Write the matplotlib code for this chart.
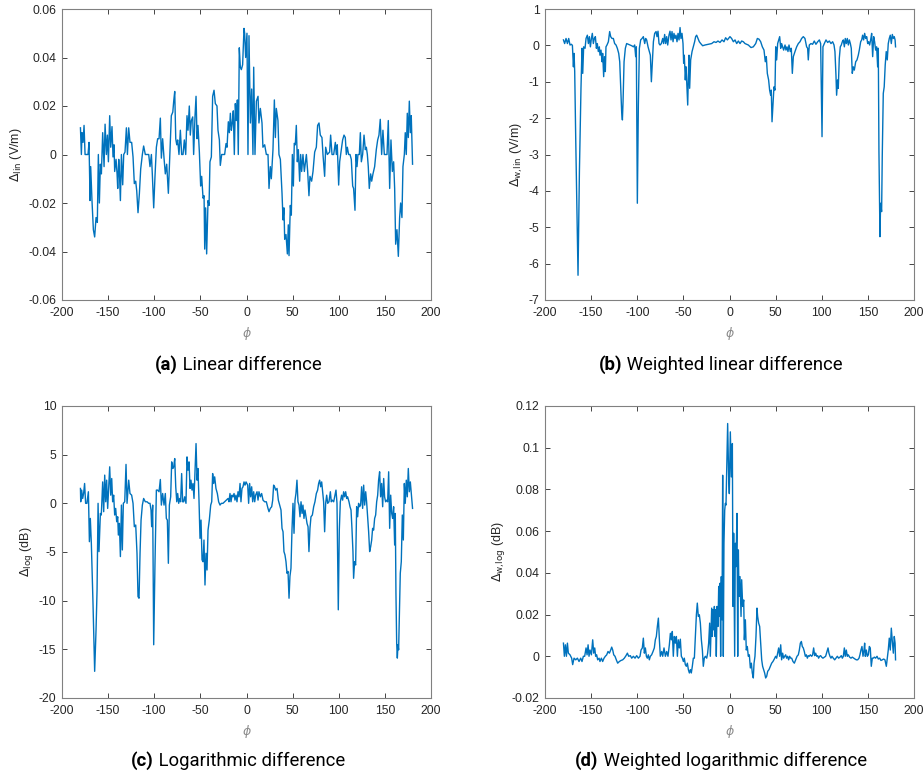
import numpy as np
import matplotlib
matplotlib.use('Agg')
import matplotlib.pyplot as plt
from matplotlib.ticker import FuncFormatter, MultipleLocator
from matplotlib.offsetbox import TextArea, HPacker, AnnotationBbox

plt.rcParams['axes.unicode_minus'] = False
plt.rcParams['font.family'] = ['Liberation Sans', 'DejaVu Sans']

# (a) linear difference, V/m
a_phi = [-180, -179, -178.3, -177.2, -176.1, -175, -173.6, -171.8, -170.7, -169.6,
         -168.9, -167.5, -166, -164.6, -163.1, -161.7, -160.6, -159.5, -158.4, -157.3,
         -155.9, -154.4, -153.3, -151.9, -150.8, -149.7, -148.3, -147.2, -145.8, -144.7,
         -143.6, -142.9, -141.4, -140.3, -139.6, -138.5, -137.8, -136.7, -135.6, -134.2,
         -133.1, -131.7, -130.2, -129.1, -127.7, -126.3, -124.5, -123, -121.6, -120.1,
         -119, -117.6, -116.1, -114.7, -112.9, -111.5, -109.7, -107.8, -106, -104.6,
         -103.1, -102.1, -100.6, -99.2, -97.7, -96.3, -94.8, -93.4, -92.3, -90.9,
         -89.4, -88, -86.5, -84.7, -83.3, -81.5, -79.9, -78.9, -77.8, -76.7,
         -75.6, -74.6, -73.2, -71.7, -70.3, -68.8, -67.4, -65.9, -64.5, -63.4,
         -62, -60.9, -59.8, -58.3, -57.3, -55.8, -54.7, -53.6, -52.6, -51.1,
         -49.7, -48.6, -47.1, -46, -45.3, -44.3, -43.2, -41.7, -40.6, -39.6,
         -38.1, -36.7, -35.2, -33.8, -32, -30.9, -29.4, -28.4, -26.9, -25.1,
         -23.7, -22.2, -21.1, -19.7, -18.6, -17.5, -16.4, -15.4, -14.3, -13.2,
         -12.1, -11, -9.9, -8.9, -7.8, -6.7, -5.6, -4.2, -2.7, -2.0,
         -0.9, 0.5, 1.6, 2.7, 4.2, 5.6, 7.0, 7.8, 9.2, 10.7,
         12.5, 13.5, 15.0, 16.8, 17.8, 19.7, 21.5, 23.3, 24.4, 25.8,
         26.9, 28.7, 30.2, 31.3, 32.3, 34.1, 35.2, 36.7, 38.5, 39.6,
         40.6, 41.4, 42.8, 44.3, 45.3, 46.1, 47.5, 48.6, 49.7, 50.8,
         51.8, 52.9, 54.0, 55.1, 56.2, 57.6, 58.7, 59.8, 61.2, 62.7,
         64.9, 66.3, 67.7, 68.8, 70.6, 72.1, 73.9, 75.7, 77.1, 78.6,
         80.0, 81.8, 82.9, 84.7, 85.8, 87.6, 90.1, 91.2, 92.7, 94.5,
         96.3, 97.4, 98.4, 99.9, 101.0, 102.4, 104.2, 105.7, 107.1, 108.2,
         109.3, 110.7, 112.2, 113.6, 115.1, 116.1, 117.6, 118.7, 119.8, 120.8,
         122.3, 123.4, 124.5, 125.9, 127.4, 128.8, 129.9, 131.0, 132.0, 133.1,
         134.6, 135.7, 137.1, 138.9, 140.7, 142.2, 143.6, 145.0, 146.5, 147.9,
         149.4, 150.8, 152.3, 153.7, 155.2, 156.6, 158.1, 159.5, 160.6, 161.7,
         163.1, 164.6, 166.0, 167.1, 168.5, 169.6, 171.1, 172.1, 173.2, 174.3,
         175.4, 176.5, 177.6, 178.6, 180]
a_val = [0.011, 0.0, 0.009, 0.005, 0.012, 0.0, 0.0, 0.0, 0.005, -0.019,
         -0.005, -0.019, -0.031, -0.034, -0.026, -0.028, 0.0, -0.020, -0.004, -0.008,
         0.009, -0.005, 0.0125, 0.0, 0.008, -0.003, 0.016, 0.003, 0.0115, -0.001,
         0.004, -0.007, -0.002, -0.008, -0.014, -0.002, -0.007, -0.019, 0.0, -0.0125,
         0.0, 0.001, 0.011, 0.0, 0.011, 0.005, 0.005, -0.001, -0.012, -0.011,
         -0.015, -0.024, -0.016, -0.006, 0.0, 0.0035, 0.0, 0.0, 0.0, -0.005,
         0.0, -0.008, -0.022, -0.009, 0.003, 0.0065, 0.0065, 0.015, -0.0015, 0.0065,
         -0.0015, -0.008, -0.004, -0.016, -0.002, 0.016, 0.0175, 0.022, 0.026, 0.0065,
         0.004, 0.006, 0.0, 0.010, 0.0, 0.0, 0.006, 0.0, 0.016, 0.010,
         0.020, 0.008, 0.014, 0.0155, 0.0, 0.016, 0.024, 0.0065, 0.012, 0.001,
         -0.013, -0.009, -0.018, -0.017, -0.039, -0.022, -0.041, -0.019, -0.021, -0.003,
         -0.001, 0.024, 0.0265, 0.021, 0.020, 0.010, 0.006, -0.0045, 0.0, 0.0,
         0.0, 0.0045, 0.003, 0.0135, 0.009, 0.017, 0.010, 0.013, 0.018, 0.0,
         0.021, 0.014, 0.0225, 0.0, 0.044, 0.036, 0.035, 0.037, 0.052, 0.050,
         0.040, 0.050, 0.0, 0.049, 0.013, 0.027, 0.0, 0.036, 0.0, 0.022,
         0.024, 0.013, 0.019, 0.013, 0.003, 0.004, 0.0, 0.0, -0.014, -0.005,
         -0.010, 0.002, 0.0225, 0.007, 0.019, 0.014, 0.0, -0.002, -0.016, -0.027,
         -0.022, -0.035, -0.033, -0.041, -0.029, -0.0417, -0.021, -0.025, 0.0, -0.013,
         0.0046, 0.004, 0.012, -0.003, 0.002, -0.011, 0.0, -0.007, 0.0, -0.007,
         0.0, -0.007, -0.017, -0.009, -0.011, -0.007, 0.001, 0.003, 0.012, 0.013,
         0.008, 0.007, 0.0, -0.009, 0.003, 0.0, 0.001, 0.008, 0.0, 0.0,
         0.005, 0.0, 0.004, -0.0126, -0.003, 0.001, 0.006, 0.008, 0.007, 0.0,
         0.003, 0.0, 0.0, -0.002, -0.013, -0.014, -0.023, 0.0, -0.005, 0.0,
         0.0, 0.009, -0.003, 0.0, 0.008, 0.002, 0.003, 0.0, -0.005, -0.014,
         -0.008, -0.011, -0.008, -0.005, 0.002, 0.006, 0.008, 0.0145, 0.0, 0.010,
         0.0, 0.0, 0.0, 0.014, -0.014, 0.006, -0.007, -0.003, -0.014, -0.037,
         -0.031, -0.042, -0.026, -0.020, -0.026, -0.005, 0.0, 0.009, 0.0, 0.017,
         0.007, 0.022, 0.009, 0.016, -0.004]

# (b) weighted linear difference, V/m
b_phi = [-180, -178.7, -177.2, -175.7, -174.3, -172.9, -171.4, -170.3, -169.2, -168.5,
         -167.8, -166.7, -164.2, -162.7, -161, -159.9, -159.1, -158.1, -156.6, -155.5,
         -154.1, -153, -151.9, -150.8, -149.7, -148.7, -147.6, -146.5, -145.4, -144.3,
         -143.3, -142.2, -141.1, -140.4, -139.3, -138.2, -137.5, -136.4, -135.6, -134.6,
         -133.9, -132.8, -131.3, -129.9, -128.8, -127.4, -125.9, -124.5, -123, -121.6,
         -120.1, -119, -118, -116.9, -116.1, -115.4, -114.3, -112.9, -111.5, -109.6,
         -107.8, -106, -104.2, -102.8, -101.7, -101, -99.9, -98.8, -97.7, -96.3,
         -94.8, -93.4, -91.9, -90.9, -89.8, -88.3, -86.9, -85.8, -84.7, -83.6,
         -82.5, -81.1, -79.6, -78.6, -77.5, -76.4, -75.3, -73.9, -72.4, -71.4,
         -70.3, -69.2, -68.1, -67, -65.6, -64.5, -63.4, -62.3, -61.2, -60.2,
         -59.1, -58, -56.9, -55.8, -54.7, -53.6, -52.6, -51.5, -50.4, -49.7,
         -49, -47.9, -47.1, -46.4, -45.3, -44.6, -43.9, -43.2, -42.1, -40.6,
         -39.2, -37.8, -36.7, -35.6, -34.1, -32.7, -31.2, -29.1, -26.6, -22.9,
         -19.3, -16.8, -14.6, -12.5, -10.3, -8.1, -6, -4.2, -2.3, -0.5,
         0.5, 2.3, 4.2, 6, 7.8, 9.6, 11.4, 13.2, 15, 16.8,
         18.6, 20.4, 23.3, 25.8, 28.4, 30.2, 32, 33.8, 35.6, 37.4,
         38.8, 39.9, 41, 42.4, 43.5, 44.6, 45.3, 46.1, 47.1, 48.2,
         49.3, 50.1, 51.1, 52.2, 53.3, 54.4, 55.5, 56.5, 57.6, 58.7,
         60.2, 61.2, 62.3, 63.4, 64.5, 65.9, 67, 68.1, 69.2, 71,
         72.8, 74.6, 76.4, 78.2, 80, 81.8, 83.6, 84.7, 85.4, 86.5,
         88.3, 90.1, 91.9, 93.7, 95.6, 97.4, 98.8, 100.3, 101.3, 102.8,
         104.6, 106.4, 108.2, 110, 111.8, 113.3, 114.3, 115.4, 116.1, 117.2,
         117.9, 119, 120.1, 121.2, 122.3, 123.4, 124.5, 125.5, 126.6, 127.7,
         128.8, 129.9, 131, 132, 133.1, 134.2, 135.3, 136.8, 138.2, 139.6,
         140.7, 142.2, 143.3, 144.3, 145.4, 146.5, 147.6, 148.7, 149.8, 150.9,
         151.9, 153, 154.1, 155.2, 156.3, 157.3, 158.4, 159.5, 160.6, 161.3,
         162, 163.1, 163.8, 164.9, 165.6, 166.7, 167.7, 168.8, 169.9, 171,
         172.1, 173.2, 174.3, 175.4, 176.5, 177.6, 178.6, 179.5, 180]
b_val = [0.15, 0.05, 0.19, 0.05, 0.19, 0.01, 0.03, 0.0, -0.59, -0.22,
         -0.72, -2.56, -6.32, -3.47, -1.18, -0.08, -0.77, -0.04, -0.08, 0.19,
         0.28, 0.05, 0.24, -0.04, 0.19, 0.33, 0.05, 0.19, 0.24, -0.08,
         0.05, -0.17, -0.04, -0.27, -0.13, -0.45, -0.22, -0.86, -0.31, -0.72,
         -0.04, 0.01, 0.10, 0.38, 0.24, 0.19, 0.19, 0.05, 0.01, -0.08,
         -0.22, -0.45, -1.09, -1.82, -2.05, -1.55, -0.45, -0.08, 0.05, 0.03,
         0.01, -0.01, -0.04, 0.01, -0.31, -0.04, -4.34, -1.64, -0.08, 0.15,
         0.19, 0.24, 0.05, 0.19, 0.15, -0.04, -0.17, -0.27, -1.00, -0.45,
         0.10, 0.33, 0.38, 0.24, 0.39, 0.05, 0.01, 0.05, 0.19, 0.05,
         0.30, 0.05, 0.24, 0.01, 0.28, 0.39, 0.15, 0.38, 0.10, 0.33,
         0.19, 0.28, 0.10, 0.33, 0.15, 0.49, 0.19, 0.33, 0.05, -0.49,
         -0.27, -0.95, -0.59, -1.00, -1.64, -0.86, -0.27, -1.18, -0.40, -0.17,
         -0.04, 0.10, 0.24, 0.28, 0.19, 0.10, 0.05, -0.01, 0.01, 0.03,
         0.05, 0.10, 0.08, 0.12, 0.08, 0.15, 0.10, 0.21, 0.15, 0.21,
         0.24, 0.19, 0.10, 0.15, 0.05, 0.12, 0.05, 0.12, 0.10, 0.05,
         0.03, 0.01, -0.06, -0.04, 0.05, 0.19, 0.17, 0.10, -0.04, -0.13,
         -0.45, -0.31, -0.77, -0.95, -1.23, -1.37, -1.23, -2.10, -1.64, -1.14,
         -1.23, -0.04, -0.40, 0.05, 0.15, 0.24, -0.08, 0.05, -0.04, -0.13,
         0.01, -0.13, -0.04, -0.17, 0.01, -0.17, -0.08, -0.77, -0.31, -0.17,
         -0.04, 0.05, 0.10, 0.19, 0.24, 0.19, -0.04, -0.08, -0.40, 0.01,
         0.05, 0.03, 0.12, 0.03, 0.10, 0.15, 0.05, -2.51, -0.04, 0.05,
         0.15, 0.08, 0.12, 0.05, 0.10, 0.01, -0.17, -0.82, -1.37, -0.95,
         -1.18, -0.36, -0.04, 0.01, 0.10, 0.15, -0.04, 0.19, 0.05, 0.19,
         0.01, 0.15, 0.05, -0.08, -0.77, -0.59, -0.68, -0.45, -0.40, -0.27,
         -0.13, 0.10, 0.15, 0.28, 0.15, 0.33, 0.19, 0.24, 0.05, 0.10,
         0.01, 0.15, 0.33, -0.31, 0.24, 0.10, -0.13, -0.04, -0.59, -0.08,
         -2.92, -5.26, -4.34, -4.57, -3.02, -1.32, -1.14, -0.54, -0.17, -0.40,
         0.05, 0.19, 0.28, 0.05, 0.30, 0.19, 0.24, 0.15, -0.04]

# (c) logarithmic difference, dB
c_phi = [-180, -179.7, -178.7, -177.6, -176.6, -175.5, -174.4, -173, -171.4, -170.3,
         -169.3, -168.2, -166.4, -164.6, -163.1, -162, -160.9, -159.9, -158.4, -157.4,
         -155.9, -154.8, -153.7, -152.6, -151.6, -150.5, -149.4, -148.3, -147.2, -146.1,
         -145.1, -144, -142.9, -141.8, -140.7, -139.6, -138.9, -137.8, -136.7, -135.6,
         -134.6, -133.5, -132, -130.6, -129.5, -127.7, -126.3, -124.5, -123, -121.6,
         -120.1, -118.7, -117.6, -116.5, -115.4, -114.3, -112.9, -111.5, -109.7, -107.8,
         -106, -104.6, -103.5, -102.8, -101.7, -100.6, -99.2, -97.7, -96.3, -94.8,
         -93.4, -92.3, -90.9, -89.4, -88, -86.9, -85.8, -84.7, -83.6, -82.2,
         -81.1, -79.9, -78.9, -77.8, -76.7, -75.6, -74.6, -73.5, -72.4, -71.4,
         -70.3, -69.2, -68.1, -67, -65.6, -64.5, -63.4, -62.3, -61.2, -60.2,
         -59.1, -58, -56.9, -55.8, -54.7, -53.6, -52.6, -51.5, -50.4, -49.3,
         -48.2, -47.1, -46.1, -45, -43.9, -42.8, -41.7, -40.3, -38.8, -37.7,
         -36.7, -35.6, -34.5, -33.1, -31.6, -30.2, -28.7, -27.3, -25.5, -23.7,
         -21.9, -20, -19, -17.9, -16.8, -15.7, -14.6, -13.5, -12.5, -11.4,
         -10.3, -9.2, -8.1, -7, -6, -4.9, -3.8, -2.7, -1.6, -0.5,
         1.3, 2.3, 3.4, 4.5, 5.6, 6.7, 7.8, 8.9, 9.9, 11.4,
         12.5, 13.5, 15, 16.4, 17.9, 19.7, 21.5, 23.3, 24.4, 25.8,
         27.3, 28.4, 29.4, 30.5, 31.6, 33.1, 34.5, 35.9, 37.4, 38.5,
         39.6, 40.6, 41.7, 42.8, 43.9, 45, 46.1, 47.1, 48.2, 49.3,
         50.4, 51.5, 52.6, 53.6, 54.7, 55.8, 56.9, 58, 59.1, 60.2,
         61.2, 62.3, 63.4, 64.5, 65.6, 66.7, 67.7, 68.8, 69.9, 71.4,
         72.8, 74.2, 75.7, 77.1, 78.2, 79.3, 80.4, 81.5, 82.5, 83.6,
         84.7, 85.8, 86.9, 88, 89.4, 90.9, 91.9, 93, 94.5, 95.9,
         97, 98.1, 99.5, 100.6, 101.7, 103.1, 104.2, 105.3, 106.4, 107.5,
         108.6, 109.6, 111.1, 112.2, 113.3, 114.3, 115.4, 116.1, 117.2, 118.3,
         119.4, 120.5, 121.5, 122.6, 123.7, 124.8, 125.9, 127, 128.1, 129.2,
         130.2, 131.3, 132.4, 133.5, 134.6, 135.7, 136.7, 137.8, 138.9, 140,
         141.1, 142.2, 143.2, 144.3, 145.4, 146.5, 147.6, 148.7, 149.7, 150.8,
         151.9, 153, 154.1, 155.2, 156.3, 157.4, 158.4, 159.5, 160.6, 161.3,
         162, 162.8, 163.5, 164.2, 164.9, 166, 166.7, 167.8, 168.9, 170,
         171.1, 172.1, 173.2, 174.3, 175.4, 176.5, 177.6, 178.6, 180]
c_val = [1.53, 0.16, 1.36, 0.5, 1.0, 2.04, 0.0, 0.0, 1.19, -3.94,
         -1.55, -4.1, -10.26, -17.26, -13.0, -8.9, 0.0, -4.96, -1.04, -1.2,
         2.2, -0.86, 2.9, 0.16, 2.38, -0.52, 1.53, 3.75, 0.84, 2.55,
         0.16, 0.84, -1.2, -0.52, -1.89, -1.38, -3.26, -2.06, -5.47, -0.18,
         -4.79, 0.0, 0.16, 4.0, 0.0, 2.38, 1.01, 0.84, 0.0, -2.4,
         -2.23, -5.13, -9.58, -9.75, -5.13, -1.72, -0.18, 0.5, 0.16, 0.16,
         0.0, 0.0, -0.69, -2.4, -0.18, -14.53, -6.16, 1.36, 1.36, 1.19,
         2.45, -0.18, 1.01, -0.18, 1.01, -1.55, -1.72, -6.16, -0.18, 0.67,
         4.26, 3.58, 3.75, 4.6, 1.7, 0.16, 1.01, 0.0, 0.5, 0.16,
         3.06, 0.16, 0.16, 0.67, 0.0, 4.77, 3.4, 4.26, 1.53, 2.38,
         1.36, 2.04, 0.5, 3.4, 6.14, 2.38, 3.58, 0.33, -3.6, -1.72,
         -5.8, -6.0, -3.77, -8.39, -5.13, -6.85, -2.75, -1.72, -0.18, 0.16,
         3.06, 2.04, 2.72, 1.53, 1.01, 0.16, -0.18, 0.0, 0.0, 0.16,
         0.33, 0.5, 0.16, 1.01, 0.16, 0.84, 0.67, 1.01, 0.33, 0.84,
         0.16, 1.19, 0.67, 2.04, 0.16, 1.53, 1.7, 2.2, 1.87, 2.2,
         1.87, 0.0, 2.04, 0.67, 1.7, 0.16, 1.19, 0.16, 0.84, 1.19,
         0.33, 1.19, 0.67, 1.01, 0.33, 0.16, 0.16, -0.52, -0.86, -0.52,
         -0.35, 0.33, 1.87, 1.7, 1.36, 1.53, 0.33, -0.18, -0.69, -2.57,
         -2.92, -4.96, -5.3, -5.99, -7.19, -7.0, -9.75, -7.5, -6.67, -2.75,
         0.0, -3.08, 0.33, 1.01, 2.38, 0.16, -0.18, -1.38, 0.16, -1.04,
         -0.18, -1.55, -0.69, -1.38, -2.06, -2.4, -4.96, -2.57, -1.38, -1.2,
         -0.35, 0.16, 1.01, 1.36, 2.04, 2.38, 1.7, 2.2, 1.19, 0.16,
         -2.92, 0.0, 0.84, 0.0, 0.16, 1.19, 0.16, 0.33, 0.16, 0.84,
         1.36, 0.0, -10.94, -2.75, 0.16, 0.84, 0.33, 1.19, 0.67, 1.19,
         0.5, 0.67, 0.16, -0.35, -0.69, -2.57, -4.96, -7.7, -5.99, -6.33,
         -0.35, -1.38, 0.0, -0.35, -0.18, 1.7, -0.52, 1.87, -0.18, 1.19,
         0.16, -1.38, -2.92, -4.96, -4.45, -3.77, -2.57, -2.75, -1.55, -1.2,
         0.16, 0.84, 2.38, 3.24, 0.67, 2.04, -0.35, 2.55, 0.67, 0.16,
         0.33, 0.16, 3.24, -2.57, 0.84, -1.04, -1.55, -0.35, -4.28, -1.04,
         -9.24, -14.37, -15.9, -14.53, -15.05, -9.92, -7.19, -5.99, -1.2, -3.77,
         2.04, 0.0, 2.38, 0.67, 3.58, 1.19, 2.2, 1.01, -0.52]

# (d) weighted logarithmic difference, dB
d_phi = [-180, -179, -177.9, -176.8, -175.7, -174.7, -172.9, -171.1, -170, -168.5,
         -166.7, -164.9, -163.1, -161.3, -159.9, -158.4, -157, -155.5, -154.4, -153.3,
         -152.3, -151.2, -149.7, -148.3, -147.2, -146.1, -145.1, -144, -142.9, -141.4,
         -140.4, -138.9, -137.5, -136, -134.6, -133.1, -131.7, -130.2, -128.8, -127.7,
         -126.6, -125.5, -124.1, -122.7, -121.2, -119.4, -117.6, -115.8, -114, -112.2,
         -110.7, -109.3, -107.5, -106, -104.2, -102.4, -100.6, -98.8, -97, -95.9,
         -94.5, -93.4, -92.3, -91.2, -90.1, -89.1, -88, -86.9, -85.8, -84.4,
         -82.9, -81.5, -80.4, -79.3, -78.2, -77.1, -76, -75, -73.5, -72.4,
         -71, -69.5, -68.1, -66.7, -65.2, -64.1, -63, -62, -60.9, -59.8,
         -58.7, -57.6, -56.5, -55.5, -54.4, -53.3, -52.2, -51.1, -50, -49,
         -47.9, -46.8, -45.7, -44.6, -43.5, -42.4, -41.4, -40.3, -39.2, -38.1,
         -37, -35.9, -34.9, -33.8, -32.7, -31.6, -30.5, -29.4, -28.4, -27.3,
         -26.2, -24.7, -23.7, -22.6, -21.5, -20.8, -20, -19.3, -18.6, -17.9,
         -17.2, -16.4, -15.7, -15, -14.3, -13.5, -12.5, -11.7, -11, -10.3,
         -9.6, -8.9, -8.1, -7.4, -6.7, -6, -5.2, -4.5, -3.8, -2.0,
         -0.9, -0.2, 0.9, 2.0, 3.1, 3.8, 4.5, 5.6, 6.3, 7.0,
         8.1, 8.9, 9.6, 10.3, 11.4, 12.5, 13.2, 14.3, 15.4, 16.1,
         17.2, 18.2, 19.3, 20.4, 21.5, 22.6, 23.7, 24.7, 25.8, 26.6,
         27.6, 28.7, 29.8, 30.5, 31.6, 32.7, 33.8, 34.9, 35.9, 37,
         38.1, 39.2, 40.3, 41.4, 42.8, 44.3, 45.7, 47.1, 48.6, 50,
         51.1, 52.2, 53.3, 54.4, 55.5, 56.5, 57.6, 58.7, 59.8, 60.9,
         61.9, 63, 64.1, 65.2, 66.3, 67.4, 68.8, 70.3, 71.7, 73.2,
         74.6, 75.7, 76.8, 77.9, 78.9, 80, 81.1, 82.2, 83.3, 84.4,
         85.4, 86.5, 87.6, 89.1, 90.1, 91.2, 92.3, 93.4, 94.5, 95.6,
         96.6, 97.7, 98.8, 99.9, 101.3, 102.8, 104.2, 105.7, 106.8, 107.8,
         108.9, 110, 111.1, 112.5, 114, 115.4, 116.9, 118.3, 119.8, 121.2,
         122.3, 123.4, 124.5, 125.5, 126.6, 127.7, 128.8, 130.2, 131.7, 133.1,
         134.6, 136, 137.5, 138.9, 140.4, 141.4, 142.5, 143.6, 144.7, 145.8,
         146.5, 147.2, 148.3, 149.4, 150.5, 151.6, 152.6, 153.7, 154.8, 155.9,
         157, 158.4, 159.9, 161.3, 162.8, 164.2, 165.6, 167.1, 168.5, 170,
         171.1, 172.1, 173.2, 174.3, 175.4, 176.5, 177.6, 178.6, 179.5, 180]
d_val = [0.0063, 0.0, 0.0055, 0.0, 0.0063, 0.0015, 0.0007, -0.0009, -0.004, -0.0009,
         -0.0017, -0.0009, -0.0025, -0.0009, -0.0025, 0.0, 0.0, 0.004, 0.0007, 0.0055,
         0.0, 0.003, 0.0007, 0.0079, 0.0015, 0.004, 0.0, 0.0007, -0.0017, -0.0009,
         -0.0025, -0.0009, -0.0025, -0.0009, 0.0, 0.0007, 0.0023, 0.0015, 0.003, 0.0044,
         0.003, 0.0007, 0.0, -0.0017, -0.0033, -0.0025, -0.002, -0.0017, -0.0009, 0.0003,
         0.0015, 0.0, 0.0003, -0.0009, 0.0, -0.0009, 0.0003, -0.0009, 0.0, 0.003,
         0.004, 0.0087, 0.0015, 0.004, 0.0, -0.0009, 0.0007, -0.0017, 0.0, 0.0007,
         0.0023, 0.004, 0.0079, 0.0095, 0.0143, 0.0183, 0.0079, 0.0, 0.0023, 0.0,
         0.004, 0.0, 0.0023, 0.0, 0.0055, 0.011, 0.0079, 0.0119, 0.0, 0.0095,
         0.0063, 0.0095, 0.0, 0.0079, 0.004, 0.0082, 0.0, -0.0009, -0.0025, -0.0009,
         -0.004, -0.0048, -0.0033, -0.0064, -0.008, -0.0064, -0.008, -0.0048, -0.0009, -0.0009,
         0.0095, 0.0199, 0.0255, 0.0191, 0.0199, 0.0159, 0.0079, 0.003, -0.0048, -0.0009,
         0.0, -0.0009, 0.0015, 0.0063, 0.0159, 0.0, 0.0127, 0.0231, 0.0095, 0.0223,
         0.0127, 0.0239, 0.0095, 0.0223, 0.0, 0.0239, 0.0143, 0.0335, 0.0191, 0.035,
         0.0, 0.0382, 0.0175, 0.0868, 0.0, 0.0542, 0.07, 0.0733, 0.0725, 0.1116,
         0.086, 0.078, 0.1076, 0.086, 0.102, 0.0239, 0.059, 0.0, 0.0542, 0.043,
         0.0685, 0.0, 0.051, 0.0287, 0.0382, 0.0191, 0.0367, 0.0239, 0.027, 0.0079,
         0.0175, 0.003, 0.0047, 0.0, 0.0007, -0.0056, -0.0033, -0.008, -0.0104, -0.0033,
         0.0, 0.0095, 0.0231, 0.0191, 0.0159, 0.0143, 0.0063, -0.0017, -0.0048, -0.0064,
         -0.008, -0.0104, -0.0096, -0.0072, -0.0064, -0.0048, -0.0033, -0.0025, -0.0013, 0.0,
         -0.0009, 0.0015, 0.004, 0.0, 0.0055, -0.0017, 0.0015, -0.0009, 0.0, 0.0007,
         -0.0009, 0.0, -0.0017, 0.0, -0.0009, -0.0009, -0.0025, -0.0033, -0.0017, 0.0,
         0.0007, 0.003, 0.0063, 0.0071, 0.0047, 0.004, 0.0023, 0.0, 0.0007, -0.0009,
         0.0003, 0.0, 0.0007, 0.0, 0.0007, 0.004, 0.0003, 0.0015, 0.0, 0.0003,
         -0.0009, 0.0, 0.0003, -0.0004, -0.0009, -0.0004, 0.0, 0.0023, 0.004, 0.0015,
         0.0, -0.0009, 0.0, -0.0009, -0.0017, -0.0009, 0.0, -0.0009, -0.0004, 0.0003,
         -0.0009, 0.0, 0.004, 0.0, 0.003, 0.0, 0.0007, -0.0004, -0.0009, -0.0004,
         -0.0009, -0.0013, -0.0017, -0.0017, -0.0009, 0.0007, 0.003, 0.0047, 0.0, 0.003,
         0.0063, 0.0, 0.003, 0.0, 0.0007, 0.0047, 0.004, -0.0048, -0.0009, -0.0009,
         -0.0004, -0.0009, 0.0, -0.0013, -0.0009, -0.002, -0.0017, -0.0013, -0.0017, -0.0048,
         -0.0009, 0.003, 0.0087, 0.003, 0.0135, 0.0071, 0.0015, 0.0095, 0.0063, -0.0017]

panels = [
    (a_phi, a_val, (-0.06, 0.06), 0.02, r'$\Delta_{\rm lin}$ (V/m)', '(a)', 'Linear difference'),
    (b_phi, b_val, (-7, 1), 1, r'$\Delta_{\rm w,\!lin}$ (V/m)', '(b)', 'Weighted linear difference'),
    (c_phi, c_val, (-20, 10), 5, r'$\Delta_{\rm log}$ (dB)', '(c)', 'Logarithmic difference'),
    (d_phi, d_val, (-0.02, 0.12), 0.02, r'$\Delta_{\rm w,\!log}$ (dB)', '(d)', 'Weighted logarithmic difference'),
]

W, H = 923, 778
fig = plt.figure(figsize=(W / 100, H / 100), dpi=100)

# axes boxes in pixels: left, top, right, bottom
boxes = [(62, 9, 431, 300), (545, 9, 914, 300), (62, 406, 431, 698), (545, 406, 914, 698)]
caption_y = [365, 365, 761, 761]

grey = '#262626'
for (phi, val, ylim, ystep, ylab, tag, caption), box, cy in zip(panels, boxes, caption_y):
    l, t, r, b = box
    ax = fig.add_axes([l / W, 1 - b / H, (r - l) / W, (b - t) / H])
    ax.plot(phi, val, color='#0072BD', linewidth=1.0)
    ax.set_xlim(-200, 200)
    ax.set_ylim(*ylim)
    ax.xaxis.set_major_locator(MultipleLocator(50))
    ax.yaxis.set_major_locator(MultipleLocator(ystep))
    fmt = FuncFormatter(lambda v, p: '%g' % round(v, 6))
    ax.xaxis.set_major_formatter(fmt)
    ax.yaxis.set_major_formatter(fmt)
    ax.tick_params(direction='in', length=3.5, width=0.6, top=True, right=True,
                   labelsize=8.8, colors=grey)
    ax.tick_params(axis='x', pad=5)
    ax.tick_params(axis='y', pad=4)
    for s in ax.spines.values():
        s.set_color('#808080')
        s.set_linewidth(0.8)
    ax.set_ylabel(ylab, fontsize=9, color=grey, labelpad=3)
    ax.set_xlabel(r'$\phi$', fontsize=9, color='#8a8a8a', labelpad=4)

    # caption under each panel with a bold tag
    tag_box = TextArea(tag, textprops=dict(fontfamily='Roboto', fontweight='bold',
                                           fontsize=13.3, color='black'))
    cap_box = TextArea(' ' + caption, textprops=dict(fontfamily='Roboto', fontsize=13.3,
                                                     color='black'))
    pack = HPacker(children=[tag_box, cap_box], align='baseline', pad=0, sep=0)
    cx = (l + r) / 2 - 8.5
    ab = AnnotationBbox(pack, (cx / W, 1 - cy / H), xycoords='figure fraction',
                        frameon=False, box_alignment=(0.5, 0.5))
    fig.add_artist(ab)

fig.savefig('out.png', dpi=100)
